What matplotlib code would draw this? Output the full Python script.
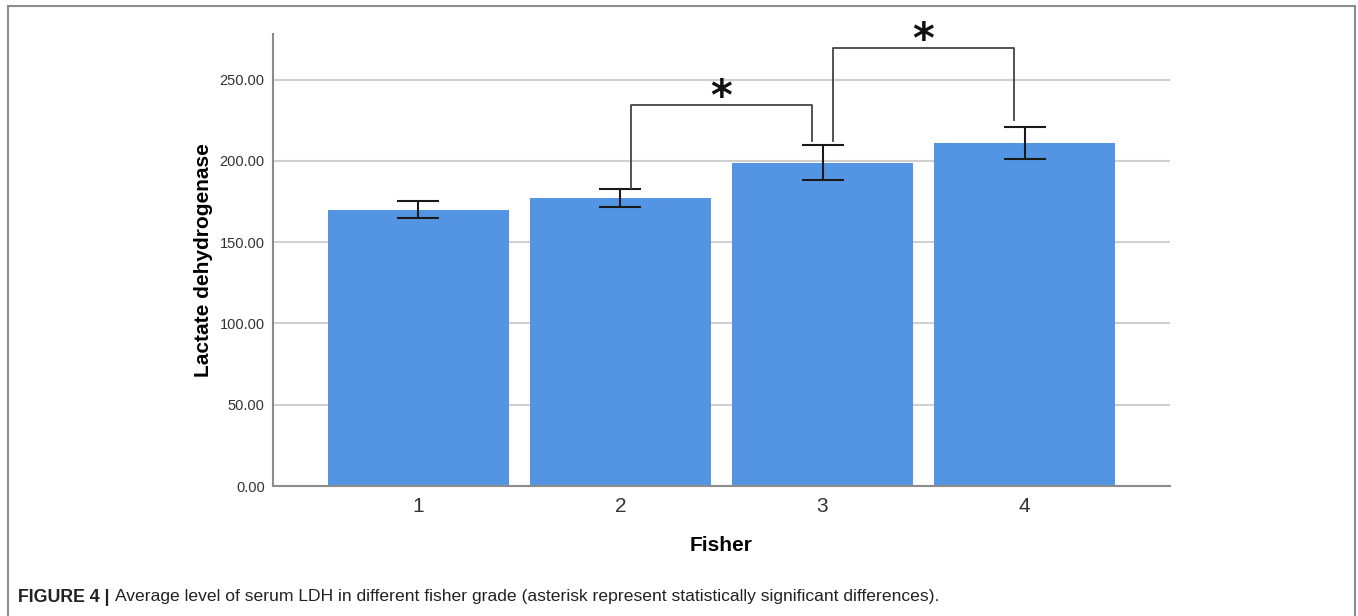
import matplotlib
matplotlib.use("Agg")
import matplotlib.pyplot as plt
from matplotlib.patches import Rectangle

categories = ["1", "2", "3", "4"]
means = [169.5, 177.0, 198.5, 210.8]
ci_low = [164.6, 171.6, 188.0, 201.0]
ci_high = [175.0, 182.4, 209.5, 220.5]
y_ticks = [0, 50, 100, 150, 200, 250]
# significance brackets: (left bar index, right bar index, bracket height, left leg bottom, right leg bottom)
brackets = [(1, 2, 234.6, 183.5, 212.0), (2, 3, 269.5, 212.0, 225.0)]

plt.rcParams['font.family'] = ['Liberation Sans', 'DejaVu Sans']

fig = plt.figure(figsize=(13.58, 6.16), dpi=100)
fig.patches.append(Rectangle((8/1358, -0.01), (1355-8)/1358, 1 - 6/616 + 0.01,
                             transform=fig.transFigure, fill=False,
                             edgecolor="#8c8c8c", linewidth=1.5))

ax = fig.add_axes([273/1358, 1 - 486/616, (1170-273)/1358, (486-34)/616])
x = list(range(1, len(categories) + 1))
ax.bar(x, means, width=0.9, color="#5495E3", zorder=2)
yerr = [[m - l for m, l in zip(means, ci_low)], [h - m for m, h in zip(means, ci_high)]]
ax.errorbar(x, means, yerr=yerr, fmt='none', ecolor="#1a1a1a", elinewidth=1.5,
            capsize=15, capthick=1.5, zorder=3)

ax.set_xlim(0.28, 4.72)
ax.set_ylim(0, 278)
ax.set_yticks(y_ticks)
ax.set_yticklabels([f"{v:.2f}" for v in y_ticks], fontsize=10.5, color="#333333")
ax.set_xticks(x)
ax.set_xticklabels(categories, fontsize=15, color="#333333")
ax.tick_params(axis='both', length=0, pad=8)
ax.tick_params(axis='y', pad=6)
ax.yaxis.grid(True, color="#d0d0d0", linewidth=1.5, zorder=0)
ax.set_axisbelow(True)
for s in ["top", "right"]:
    ax.spines[s].set_visible(False)
for s in ["left", "bottom"]:
    ax.spines[s].set_color("#8c8c8c")
    ax.spines[s].set_linewidth(1.5)

ax.set_ylabel("Lactate dehydrogenase", fontsize=15, fontweight='bold', labelpad=5)
ax.set_xlabel("Fisher", fontsize=15, fontweight='bold', labelpad=14)

off = 0.05
for i, j, h, lb, rb in brackets:
    xl = x[i] + off
    xr = x[j] - off
    ax.plot([xl, xl, xr, xr], [lb, h, h, rb], color="#444444", linewidth=1.3, zorder=4, clip_on=False)
    ax.text((xl + xr) / 2, h + 4, "*", fontsize=30, fontweight='bold', ha='center', va='center',
            family='DejaVu Sans', color="#111111", clip_on=False)

t1 = fig.text(18/1358, 1 - 597/616, "FIGURE 4 |", fontsize=12.8, fontweight='bold',
              va='center', color="#222222")
t2 = fig.text(112/1358, 1 - 597/616,
              "Average level of serum LDH in different fisher grade (asterisk represent statistically significant differences).",
              fontsize=12.6, va='center', color="#222222")
fig.canvas.draw()
r = fig.canvas.get_renderer()
bb1 = t1.get_window_extent(r)
t2.set_x((bb1.x1 + 5) / 1358)

fig.savefig("out.png", dpi=100)
